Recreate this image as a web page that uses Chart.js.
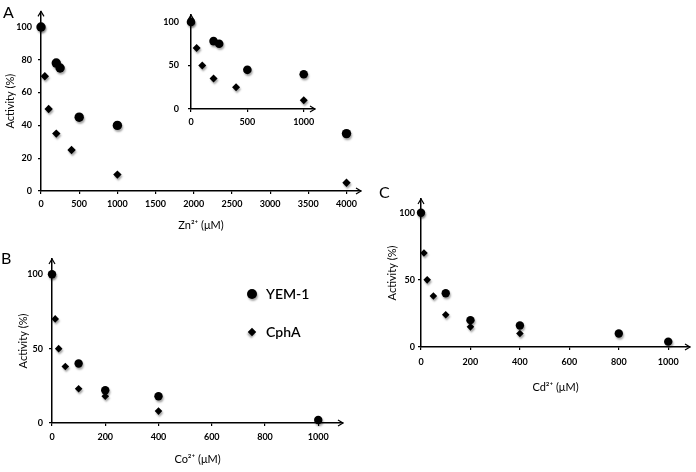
<!DOCTYPE html>
<html>
<head>
<meta charset="utf-8">
<script src="https://cdn.jsdelivr.net/npm/chart.js@4.4.1/dist/chart.umd.min.js"></script>
<style>
    html, body { margin: 0; padding: 0; background: #fff; }
    #fig { position: relative; width: 696px; height: 472px; overflow: hidden; font-family: Lato, sans-serif; }
    #fig canvas { position: absolute; left: 0; top: 0; }
    .letra { position: absolute; font-size: 16px; color: #000; line-height: 16px; }
    .leyenda { position: absolute; font-size: 14px; font-weight: 600; color: #000; line-height: 16px; }
    .marca { position: absolute; background: #000; box-shadow: 1px 2px 2px rgba(0,0,0,0.35); }
</style>
</head>
<body>
<div id="fig">
    <canvas id="chartZn" width="696" height="472"></canvas>
    <canvas id="chartZnInset" width="696" height="472"></canvas>
    <canvas id="chartCo" width="696" height="472"></canvas>
    <canvas id="chartCd" width="696" height="472"></canvas>
    <div class="letra" style="left:3px; top:4px;">A</div>
    <div class="letra" style="left:1px; top:250px;">B</div>
    <div class="letra" style="left:379px; top:184px;">C</div>
    <div class="marca" style="left:247px; top:289px; width:10px; height:10px; border-radius:50%;"></div>
    <div class="leyenda" style="left:266px; top:286px;">YEM-1</div>
    <div class="marca" style="left:249px; top:329px; width:6px; height:6px; transform:rotate(45deg);"></div>
    <div class="leyenda" style="left:266px; top:324px;">CphA</div>
</div>
<script>
const serieNombres = ['YEM-1', 'CphA'];

// Zn2+ (panel A)
const znYemX = [0, 200, 250, 500, 1000, 4000];
const znYemY = [100, 78, 75, 45, 40, 35];
const znCphX = [0, 50, 100, 200, 400, 1000, 4000];
const znCphY = [100, 70, 50, 35, 25, 10, 5];

// Co2+ (panel B)
const coYemX = [0, 100, 200, 400, 1000];
const coYemY = [100, 40, 22, 18, 2];
const coCphX = [0, 12, 25, 50, 100, 200, 400];
const coCphY = [100, 70, 50, 38, 23, 18, 8];

// Cd2+ (panel C)
const cdYemX = [0, 100, 200, 400, 800, 1000];
const cdYemY = [100, 40, 20, 16, 10, 4];
const cdCphX = [0, 12, 25, 50, 100, 200, 400];
const cdCphY = [100, 70, 50, 38, 24, 15, 10];

const znTicksX = [0, 500, 1000, 1500, 2000, 2500, 3000, 3500, 4000];
const znTicksY = [0, 20, 40, 60, 80, 100];
const insetTicksX = [0, 500, 1000];
const insetTicksY = [0, 50, 100];
const metalTicksX = [0, 200, 400, 600, 800, 1000];
const metalTicksY = [0, 50, 100];

const W = 696, H = 472;

function puntos(xs, ys, limite) {
    const res = [];
    xs.forEach((x, i) => { if (limite === undefined || x <= limite) res.push({x: x, y: ys[i]}); });
    return res;
}

const flechasYSombra = {
    id: 'flechasYSombra',
    beforeDatasetsDraw(chart) {
        const c = chart.ctx;
        c.save();
        c.shadowColor = 'rgba(0,0,0,0.35)';
        c.shadowBlur = 2;
        c.shadowOffsetX = 1;
        c.shadowOffsetY = 2;
    },
    afterDatasetsDraw(chart) {
        chart.ctx.restore();
    },
    afterDraw(chart) {
        const c = chart.ctx, a = chart.chartArea;
        c.save();
        c.strokeStyle = '#000';
        c.lineWidth = 1.2;
        c.beginPath();
        c.moveTo(a.right - 5, a.bottom - 3);
        c.lineTo(a.right, a.bottom);
        c.lineTo(a.right - 5, a.bottom + 3);
        c.moveTo(a.left - 3, a.top + 5);
        c.lineTo(a.left, a.top);
        c.lineTo(a.left + 3, a.top + 5);
        c.stroke();
        c.restore();
    }
};

function crearPanel(id, p) {
    const area = p.area;
    const fuenteTicks = {family: 'Lato', weight: 'bold', size: 9};
    const fuenteTitulo = {family: 'Lato', size: 11};
    new Chart(document.getElementById(id), {
        type: 'scatter',
        data: {
            datasets: [{
                label: serieNombres[0],
                data: p.yem,
                pointStyle: 'circle',
                pointRadius: p.rCirculo,
                pointHoverRadius: p.rCirculo,
                pointBackgroundColor: '#000',
                pointBorderWidth: 0,
                clip: false
            }, {
                label: serieNombres[1],
                data: p.cph,
                pointStyle: 'rectRot',
                pointRadius: p.rRombo,
                pointHoverRadius: p.rRombo,
                pointBackgroundColor: '#000',
                pointBorderWidth: 0,
                clip: false
            }]
        },
        options: {
            responsive: false,
            animation: false,
            events: [],
            layout: {
                padding: {
                    left: area.left - p.anchoY,
                    top: area.top,
                    right: W - area.right,
                    bottom: H - area.bottom - p.altoX
                }
            },
            plugins: {
                legend: {display: false},
                tooltip: {enabled: false}
            },
            scales: {
                x: {
                    type: 'linear',
                    min: 0,
                    max: p.maxX,
                    afterBuildTicks: s => { s.ticks = p.ticksX.map(v => ({value: v})); },
                    afterFit: s => { s.height = p.altoX; },
                    grid: {drawOnChartArea: false, tickLength: 3, color: '#000', lineWidth: 1.2},
                    border: {display: true, color: '#000', width: 1.5},
                    ticks: {color: '#000', font: fuenteTicks, padding: p.padX, maxRotation: 0, callback: v => String(v)},
                    title: {display: !!p.tituloX, text: p.tituloX, color: '#000', font: fuenteTitulo, padding: 0}
                },
                y: {
                    type: 'linear',
                    min: 0,
                    max: p.maxY,
                    afterBuildTicks: s => { s.ticks = p.ticksY.map(v => ({value: v})); },
                    afterFit: s => { s.width = p.anchoY; },
                    grid: {drawOnChartArea: false, tickLength: 3, color: '#000', lineWidth: 1.2},
                    border: {display: true, color: '#000', width: 1.5},
                    ticks: {color: '#000', font: fuenteTicks, padding: p.padY, callback: v => String(v)},
                    title: {display: !!p.tituloY, text: p.tituloY, color: '#000', font: fuenteTitulo, padding: 0}
                }
            }
        },
        plugins: [flechasYSombra]
    });
}

crearPanel('chartZn', {
    area: {left: 41, right: 361, top: 5, bottom: 191},
    anchoY: 37, altoX: 41, padX: 5, padY: 6,
    maxX: 4190, maxY: 109.5,
    ticksX: znTicksX, ticksY: znTicksY,
    tituloX: 'Zn²⁺ (μM)', tituloY: 'Activity (%)',
    yem: puntos(znYemX, znYemY), cph: puntos(znCphX, znCphY),
    rCirculo: 4.7, rRombo: 4.2
});

crearPanel('chartZnInset', {
    area: {left: 191, right: 315, top: 15, bottom: 109},
    anchoY: 30, altoX: 20, padX: 5, padY: 9,
    maxX: 1100, maxY: 108,
    ticksX: insetTicksX, ticksY: insetTicksY,
    tituloX: '', tituloY: '',
    yem: puntos(znYemX, znYemY, 1000), cph: puntos(znCphX, znCphY, 1000),
    rCirculo: 4.3, rRombo: 4
});

crearPanel('chartCo', {
    area: {left: 52, right: 343, top: 259, bottom: 423},
    anchoY: 35, altoX: 43, padX: 6, padY: 6,
    maxX: 1093, maxY: 110.3,
    ticksX: metalTicksX, ticksY: metalTicksY,
    tituloX: 'Co²⁺ (μM)', tituloY: 'Activity (%)',
    yem: puntos(coYemX, coYemY), cph: puntos(coCphX, coCphY),
    rCirculo: 4.2, rRombo: 3.8
});

crearPanel('chartCd', {
    area: {left: 421, right: 690, top: 199, bottom: 347},
    anchoY: 35, altoX: 47, padX: 7, padY: 3,
    maxX: 1088, maxY: 110.2,
    ticksX: metalTicksX, ticksY: metalTicksY,
    tituloX: 'Cd²⁺ (μM)', tituloY: 'Activity (%)',
    yem: puntos(cdYemX, cdYemY), cph: puntos(cdCphX, cdCphY),
    rCirculo: 4.2, rRombo: 3.8
});
</script>
</body>
</html>
